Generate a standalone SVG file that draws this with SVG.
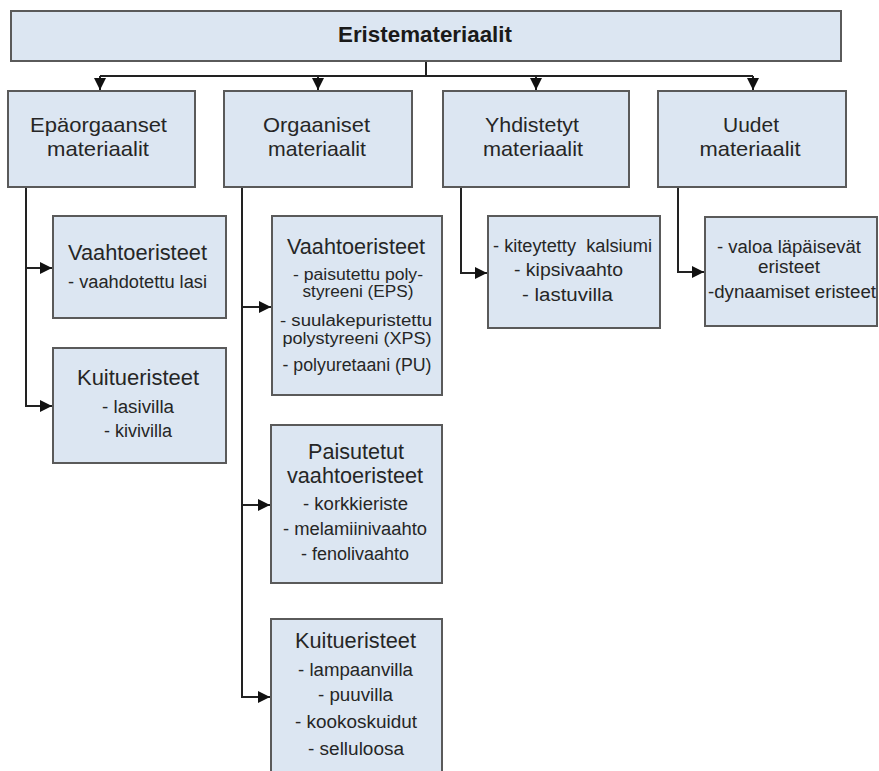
<svg xmlns="http://www.w3.org/2000/svg" width="879" height="771" viewBox="0 0 879 771">
<style>
.box{fill:#dce6f2;stroke:#5a5a5a;stroke-width:2}
.t{font-family:"Liberation Sans",Arial,sans-serif;fill:#262626;text-anchor:middle}
.top{font-size:22px;font-weight:bold;fill:#1a1a1a}
.h{font-size:21px}
.s{font-size:22px}
.i{font-size:18px}
.w{font-size:16px}
.c{fill:none;stroke:#222;stroke-width:2}
</style>
<defs>
<marker id="ah" markerUnits="userSpaceOnUse" markerWidth="12" markerHeight="12" refX="12" refY="6" orient="auto">
<path d="M0,0 L12,6 L0,12 z" fill="#111"/>
</marker>
</defs>
<rect width="879" height="771" fill="#fff"/>
<g id="connectors">
<path class="c" d="M426 61 V76 M100 76 H753"/>
<path class="c" d="M100 76 V90" marker-end="url(#ah)"/>
<path class="c" d="M318 76 V90" marker-end="url(#ah)"/>
<path class="c" d="M536 76 V90" marker-end="url(#ah)"/>
<path class="c" d="M753 76 V90" marker-end="url(#ah)"/>
<path class="c" d="M26 187 V406 H52" marker-end="url(#ah)"/>
<path class="c" d="M26 268 H52" marker-end="url(#ah)"/>
<path class="c" d="M242 187 V697 H270" marker-end="url(#ah)"/>
<path class="c" d="M242 307 H271" marker-end="url(#ah)"/>
<path class="c" d="M242 505 H270" marker-end="url(#ah)"/>
<path class="c" d="M461 187 V273 H487" marker-end="url(#ah)"/>
<path class="c" d="M678 187 V272 H704" marker-end="url(#ah)"/>
</g>
<g id="root">
<rect class="box" x="11" y="11" width="830" height="50"/>
<text class="t top" x="425" y="42" textLength="174" lengthAdjust="spacingAndGlyphs">Eristemateriaalit</text>
</g>
<g id="epaorgaanset">
<rect class="box" x="8" y="91" width="187" height="96"/>
<text class="t h" x="98.5" y="132" textLength="137" lengthAdjust="spacingAndGlyphs">Epäorgaanset</text>
<text class="t h" x="98" y="156" textLength="102" lengthAdjust="spacingAndGlyphs">materiaalit</text>
</g>
<g id="orgaaniset">
<rect class="box" x="224" y="91" width="188" height="96"/>
<text class="t h" x="316.5" y="132" textLength="107" lengthAdjust="spacingAndGlyphs">Orgaaniset</text>
<text class="t h" x="317" y="156" textLength="98" lengthAdjust="spacingAndGlyphs">materiaalit</text>
</g>
<g id="yhdistetyt">
<rect class="box" x="443" y="91" width="186" height="96"/>
<text class="t h" x="532" y="132" textLength="94" lengthAdjust="spacingAndGlyphs">Yhdistetyt</text>
<text class="t h" x="533" y="156" textLength="100" lengthAdjust="spacingAndGlyphs">materiaalit</text>
</g>
<g id="uudet">
<rect class="box" x="658" y="91" width="188" height="96"/>
<text class="t h" x="751" y="132" textLength="56" lengthAdjust="spacingAndGlyphs">Uudet</text>
<text class="t h" x="750" y="156" textLength="101" lengthAdjust="spacingAndGlyphs">materiaalit</text>
</g>
<g id="epa-vaahtoeristeet">
<rect class="box" x="53" y="216" width="173" height="102"/>
<text class="t s" x="137.5" y="260" textLength="139" lengthAdjust="spacingAndGlyphs">Vaahtoeristeet</text>
<text class="t i" x="137.5" y="288" textLength="139" lengthAdjust="spacingAndGlyphs">- vaahdotettu lasi</text>
</g>
<g id="epa-kuitueristeet">
<rect class="box" x="53" y="348" width="173" height="115"/>
<text class="t s" x="138" y="385" textLength="122" lengthAdjust="spacingAndGlyphs">Kuitueristeet</text>
<text class="t i" x="138" y="413" textLength="72" lengthAdjust="spacingAndGlyphs">- lasivilla</text>
<text class="t i" x="138" y="437" textLength="68" lengthAdjust="spacingAndGlyphs">- kivivilla</text>
</g>
<g id="org-vaahtoeristeet">
<rect class="box" x="272" y="216" width="170" height="179"/>
<text class="t s" x="356" y="254" textLength="138" lengthAdjust="spacingAndGlyphs">Vaahtoeristeet</text>
<text class="t w" x="358" y="280" textLength="130" lengthAdjust="spacingAndGlyphs">- paisutettu poly-</text>
<text class="t w" x="358" y="297" textLength="111" lengthAdjust="spacingAndGlyphs">styreeni (EPS)</text>
<text class="t w" x="356" y="326" textLength="152" lengthAdjust="spacingAndGlyphs">- suulakepuristettu</text>
<text class="t w" x="357" y="344" textLength="149" lengthAdjust="spacingAndGlyphs">polystyreeni (XPS)</text>
<text class="t i" x="357" y="371" textLength="149" lengthAdjust="spacingAndGlyphs">- polyuretaani (PU)</text>
</g>
<g id="org-paisutetut">
<rect class="box" x="271" y="425" width="171" height="158"/>
<text class="t s" x="356" y="459" textLength="96" lengthAdjust="spacingAndGlyphs">Paisutetut</text>
<text class="t s" x="355" y="483" textLength="136" lengthAdjust="spacingAndGlyphs">vaahtoeristeet</text>
<text class="t i" x="355.5" y="510" textLength="105" lengthAdjust="spacingAndGlyphs">- korkkieriste</text>
<text class="t i" x="355" y="535" textLength="144" lengthAdjust="spacingAndGlyphs">- melamiinivaahto</text>
<text class="t i" x="355" y="560" textLength="108" lengthAdjust="spacingAndGlyphs">- fenolivaahto</text>
</g>
<g id="org-kuitueristeet">
<rect class="box" x="271" y="619" width="171" height="172"/>
<text class="t s" x="355.5" y="648" textLength="121" lengthAdjust="spacingAndGlyphs">Kuitueristeet</text>
<text class="t i" x="355.5" y="676" textLength="115" lengthAdjust="spacingAndGlyphs">- lampaanvilla</text>
<text class="t i" x="355.5" y="701" textLength="75" lengthAdjust="spacingAndGlyphs">- puuvilla</text>
<text class="t i" x="356" y="728" textLength="122" lengthAdjust="spacingAndGlyphs">- kookoskuidut</text>
<text class="t i" x="356" y="755" textLength="96" lengthAdjust="spacingAndGlyphs">- selluloosa</text>
</g>
<g id="yhd-sub">
<rect class="box" x="488" y="216" width="172" height="112"/>
<text class="t i" x="572.5" y="252" textLength="159" lengthAdjust="spacingAndGlyphs" style="white-space:pre">- kiteytetty  kalsiumi</text>
<text class="t i" x="568.5" y="276" textLength="109" lengthAdjust="spacingAndGlyphs">- kipsivaahto</text>
<text class="t i" x="567.5" y="301" textLength="91" lengthAdjust="spacingAndGlyphs">- lastuvilla</text>
</g>
<g id="uudet-sub">
<rect class="box" x="705" y="217" width="172" height="109"/>
<text class="t i" x="789" y="253" textLength="144" lengthAdjust="spacingAndGlyphs">- valoa läpäisevät</text>
<text class="t i" x="789" y="273" textLength="62" lengthAdjust="spacingAndGlyphs">eristeet</text>
<text class="t i" x="792" y="298" textLength="168" lengthAdjust="spacingAndGlyphs">-dynaamiset eristeet</text>
</g>
</svg>
